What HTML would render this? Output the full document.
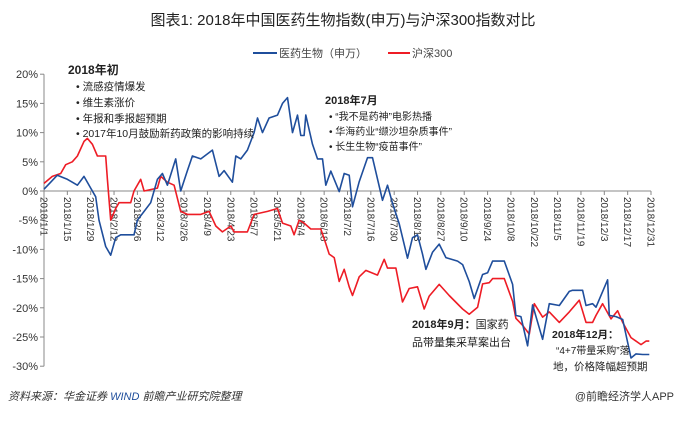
<!DOCTYPE html>
<html><head><meta charset="utf-8">
<style>
body{margin:0;background:#fff;}
svg text{font-family:"Liberation Sans","Noto Sans CJK SC",sans-serif;}
</style></head>
<body>
<svg id="chart" width="680" height="420" viewBox="0 0 680 420" xmlns="http://www.w3.org/2000/svg">
<text x="343" y="25" text-anchor="middle" font-size="15" fill="#222">图表1: 2018年中国医药生物指数(申万)与沪深300指数对比</text>
<g>
<line x1="253" y1="53" x2="277" y2="53" stroke="#1f4e9c" stroke-width="2"/>
<text x="279" y="57" font-size="11" fill="#444">医药生物（申万）</text>
<line x1="388" y1="53" x2="410" y2="53" stroke="#ee1c25" stroke-width="2"/>
<text x="412" y="57" font-size="11" fill="#444">沪深300</text>
</g>
<g id="axes"></g>
<g id="series"></g>
<g font-size="10.5" fill="#222">
<text x="68" y="74" font-weight="bold" font-size="12">2018年初</text>
<text x="76" y="90">•  流感疫情爆发</text>
<text x="76" y="106">•  维生素涨价</text>
<text x="76" y="122">•  年报和季报超预期</text>
<text x="76" y="137">•  2017年10月鼓励新药政策的影响持续</text>
<text x="325" y="104" font-weight="bold" font-size="11">2018年7月</text>
<text x="329" y="120" font-size="10">•  “我不是药神”电影热播</text>
<text x="329" y="135" font-size="10">•  华海药业“缬沙坦杂质事件”</text>
<text x="329" y="150" font-size="10">•  长生生物“疫苗事件”</text>
<text x="412" y="328" font-size="11"><tspan font-weight="bold">2018年9月：</tspan>国家药</text>
<text x="412" y="346" font-size="11">品带量集采草案出台</text>
<text x="552" y="338" font-size="10.5" font-weight="bold">2018年12月：</text>
<text x="556" y="354" font-size="10">“4+7带量采购”落</text>
<text x="553" y="370" font-size="10.5">地，价格降幅超预期</text>
</g>
<text x="8" y="400" font-size="11" font-style="italic" fill="#333">资料来源：华金证券 <tspan fill="#1f4e9c">WIND</tspan> 前瞻产业研究院整理</text>
<text x="674" y="400" font-size="11" text-anchor="end" fill="#333">@前瞻经济学人APP</text>
</svg>
<script>
const yTicks=[20,15,10,5,0,-5,-10,-15,-20,-25,-30];
const xTickLabels=["2018/1/1","2018/1/15","2018/1/29","2018/2/12","2018/2/26","2018/3/12","2018/3/26","2018/4/9","2018/4/23","2018/5/7","2018/5/21","2018/6/4","2018/6/18","2018/7/2","2018/7/16","2018/7/30","2018/8/13","2018/8/27","2018/9/10","2018/9/24","2018/10/8","2018/10/22","2018/11/5","2018/11/19","2018/12/3","2018/12/17","2018/12/31"];
const pharmaDays=[0,4,8,14,17,20,24,28,31,33,37,40,43,46,54,56,60,64,68,71,74,79,82,86,89,94,101,105,108,113,115,118,122,126,128,131,135,140,143,146,149,152,154,156,157,161,164,167,169,172,177,180,183,185,189,194,197,203,206,209,213,218,221,224,227,229,233,237,241,248,251,255,258,263,266,269,276,281,283,286,290,293,299,303,309,315,317,323,325,329,331,338,339,343,347,352,355,359,363];
const pharmaVals=[0.3,1.5,2.7,2,1.5,1,2.5,0.5,-1,-5,-9.5,-11,-8,-7.5,-7.5,-5,-3.5,-2,2,3,1,5.5,0,3.5,6,5.5,7,2.5,3.5,1.5,6,5.5,7,10,12.5,10,12.5,13,15,16,10,13,9.5,9.5,13,8,5.5,5.5,1,3.4,-0.1,3,2.7,-2.7,1.6,5.7,5.7,-1.6,1,-2.1,-5.6,-11.5,-8,-7.5,-10.8,-13.4,-10.5,-9.1,-11.4,-12,-12.6,-15.5,-18.4,-14.3,-14,-12,-12,-16,-21.3,-21.5,-26.5,-19.5,-25.4,-19.3,-19.6,-17.2,-17,-17,-19.6,-19.3,-19.9,-15.2,-21.3,-21.5,-22,-28.6,-27.9,-28,-28];
const hs300Days=[0,5,10,13,17,20,24,26,29,32,34,37,38,40,43,45,52,54,58,60,68,70,74,78,82,86,94,99,103,107,112,114,122,126,134,140,143,148,150,153,156,160,166,169,171,174,177,180,183,185,189,193,200,204,206,211,215,219,224,228,231,237,243,251,255,260,263,267,269,276,281,283,287,291,294,299,303,309,315,321,325,329,331,335,340,344,347,352,358,361,363];
const hs300Vals=[1.3,2.5,3,4.5,5,6,8.5,9,8,6,6,6,2,-5,-3,-2,-2,0,2,0,0.5,2.5,1.5,1,-3.5,-4,-4,-3.5,-6,-7,-6,-7,-7,-4,-3.5,-3,-5.5,-6,-7.5,-5,-5.5,-6.5,-6.5,-9,-10.8,-11.4,-15.5,-13.4,-16.4,-17.9,-14.7,-13.6,-14.4,-11.7,-13.2,-13.2,-19,-16.7,-16.4,-20.2,-18,-16,-17.9,-20.2,-21.1,-19.9,-15.9,-15.7,-15,-15,-18.9,-21.8,-23,-24.5,-19.3,-21.6,-20.7,-22.5,-20.7,-18.7,-22.5,-22.5,-21.3,-19.3,-21.9,-20.5,-22.5,-25.1,-26.3,-25.7,-25.7];

const NS="http://www.w3.org/2000/svg";
const X0=44,X1=651,Y0=191,PER=29.2/5;
function xs(d){return X0+(X1-X0)*d/364;}
function ys(v){return Y0-v*PER;}
const axes=document.getElementById('axes');
const series=document.getElementById('series');
function mk(t,a,p){const e=document.createElementNS(NS,t);for(const k in a)e.setAttribute(k,a[k]);p.appendChild(e);return e;}
const yl=mk('line',{x1:X0,y1:ys(20),x2:X0,y2:ys(-30),stroke:'#888','stroke-width':1},axes);


yTicks.forEach(v=>{
  const t=mk('line',{x1:X0-4,y1:ys(v),x2:X0,y2:ys(v),stroke:'#888'},axes);
  
  
  const l=mk('text',{x:X0-6,y:ys(v)+4,'text-anchor':'end','font-size':11,fill:'#333'},axes);
  l.textContent=v+'%';
  
  
});
const xl=mk('line',{x1:X0,y1:Y0,x2:X1,y2:Y0,stroke:'#888','stroke-width':1},axes);


xTickLabels.forEach((s,i)=>{
  const x=xs(i*14);
  const t=mk('line',{x1:x,y1:Y0,x2:x,y2:Y0+4,stroke:'#888'},axes);
  
  
  const l=mk('text',{x:0,y:0,'font-size':10,fill:'#333',transform:`translate(${x-3.5},${Y0+6}) rotate(90)`},axes);
  l.textContent=s;
  
  
});
function line(days,vals,color,name){
  const d=days.map((dd,i)=>(i?'L':'M')+xs(dd).toFixed(1)+','+ys(vals[i]).toFixed(1)).join('');
  const p=mk('path',{d:d,fill:'none',stroke:color,'stroke-width':1.6,'stroke-linejoin':'round'},series);
  
  
}
line(hs300Days,hs300Vals,'#ee1c25','hs300-line');
line(pharmaDays,pharmaVals,'#1f4e9c','pharma-line');
</script>
</body></html>
